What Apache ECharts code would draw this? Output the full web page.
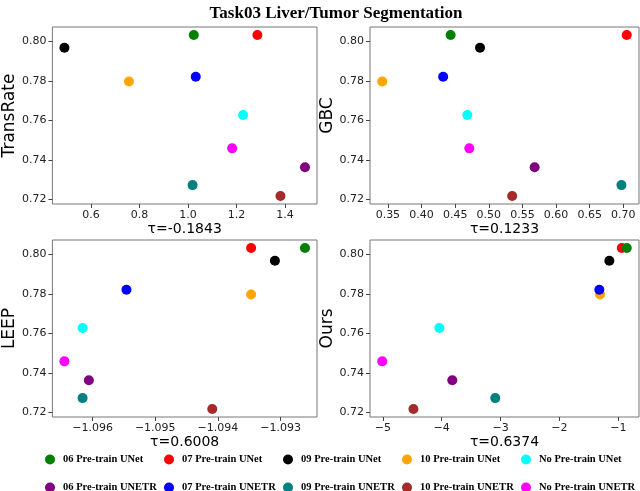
<!DOCTYPE html>
<html><head><meta charset="utf-8">
<script src="https://cdn.jsdelivr.net/npm/echarts@6/dist/echarts.min.js"></script>
<style>html,body{margin:0;padding:0;background:#fff}#c{width:640px;height:491px}</style>
</head><body><div id="c"></div>
<script>
// ---- data ----
const models = ['06 Pre-train UNet','07 Pre-train UNet','09 Pre-train UNet','10 Pre-train UNet','No Pre-train UNet',
                '06 Pre-train UNETR','07 Pre-train UNETR','09 Pre-train UNETR','10 Pre-train UNETR','No Pre-train UNETR'];
const colors = ['#008000','#ff0000','#000000','#ffa500','#00ffff','#800080','#0000ff','#008080','#a52a2a','#ff00ff'];
const performance = [0.8032,0.8032,0.7968,0.7797,0.7627,0.7362,0.7821,0.7272,0.7217,0.7458];
const transRate = [1.024,1.286,0.491,0.757,1.227,1.482,1.032,1.019,1.381,1.182];
const gbc = [0.4433,0.7052,0.487,0.3416,0.4681,0.5682,0.4322,0.6973,0.5348,0.4711];
const leep = [-1.09261,-1.09347,-1.09309,-1.09347,-1.09616,-1.09606,-1.09546,-1.09616,-1.09409,-1.09645];
const ours = [-0.857,-0.942,-1.153,-1.31,-4.04,-3.82,-1.323,-3.09,-4.48,-5.01];
const metricNames = ['TransRate','GBC','LEEP','Ours'];
const taus = ['τ=-0.1843','τ=0.1233','τ=0.6008','τ=0.6374'];
const yTicks = [0.72,0.74,0.76,0.78,0.80];
const transRateTicks = [0.6,0.8,1.0,1.2,1.4];
const gbcTicks = [0.35,0.40,0.45,0.50,0.55,0.60,0.65,0.70];
const leepTicks = [-1.096,-1.095,-1.094,-1.093];
const oursTicks = [-5,-4,-3,-2,-1];
const title = 'Task03 Liver/Tumor Segmentation';

// ---- build ----
const metrics = [transRate, gbc, leep, ours];
const xTickSets = [transRateTicks, gbcTicks, leepTicks, oursTicks];
const xDecimals = [1, 2, 3, 0];
const drawOrder = [1,0,2,3,4,5,6,7,8,9];
function range(arr){const mn=Math.min(...arr),mx=Math.max(...arr),m=(mx-mn)*0.05;return [mn-m,mx+m];}
const fmt = d => v => (v<0?'\u2212':'') + Math.abs(v).toFixed(d);

const grids = [
  {left:50, top:27, width:267, height:177},
  {left:370, top:27, width:269, height:177},
  {left:50, top:240, width:267, height:177},
  {left:370, top:240, width:269, height:177}
].map(g=>Object.assign(g,{show:true,borderColor:'#777',borderWidth:1,containLabel:false}));

const yr = range(performance);
const xAxes=[], yAxes=[], series=[];
metrics.forEach((xs,i)=>{
  const xr = range(xs);
  xAxes.push({type:'value',gridIndex:i,min:xr[0],max:xr[1],scale:true,
    name:taus[i],nameLocation:'middle',nameGap:17,
    nameTextStyle:{fontFamily:'DejaVu Sans',fontSize:14,color:'#000'},
    axisLine:{show:false},splitLine:{show:false},
    axisTick:{show:true,length:4,lineStyle:{color:'#444'},customValues:xTickSets[i]},
    axisLabel:{fontFamily:'DejaVu Sans',fontSize:11,color:'#222',margin:6,customValues:xTickSets[i],formatter:fmt(xDecimals[i])}});
  yAxes.push({type:'value',gridIndex:i,min:yr[0],max:yr[1],scale:true,
    name:metricNames[i],nameLocation:'middle',nameGap:34,
    nameTextStyle:{fontFamily:'DejaVu Sans',fontSize:17,color:'#000'},
    axisLine:{show:false},splitLine:{show:false},
    axisTick:{show:true,length:4,lineStyle:{color:'#444'},customValues:yTicks},
    axisLabel:{fontFamily:'DejaVu Sans',fontSize:11,color:'#222',margin:6,customValues:yTicks,formatter:v=>v.toFixed(2)}});
  drawOrder.forEach((k,o)=>{
    series.push({type:'scatter',name:models[k],xAxisIndex:i,yAxisIndex:i,z:2+o,
      symbol:'circle',symbolSize:10,itemStyle:{color:colors[k],opacity:1},
      emphasis:{disabled:true},data:[[xs[k],performance[k]]]});
  });
});

const legends = models.map((m,k)=>({
  data:[{name:m,icon:'circle'}],
  left: 45 + (k%5)*119, top: (k<5?454:482),
  itemWidth:10,itemHeight:10,itemGap:0,padding:0,
  textStyle:{fontFamily:'Liberation Serif',fontWeight:'bold',fontSize:10.5,color:'#000',padding:[0,0,0,3]},
  selectedMode:false
}));

const chart = echarts.init(document.getElementById('c'),null,{renderer:'canvas'});
chart.setOption({
  animation:false,
  backgroundColor:'#fff',
  title:{text:title,left:331,top:0,textAlign:'center',
    textStyle:{fontFamily:'Liberation Serif',fontWeight:'bold',fontSize:17,color:'#000'}},
  grid:grids, xAxis:xAxes, yAxis:yAxes, legend:legends, series:series
});
</script></body></html>
